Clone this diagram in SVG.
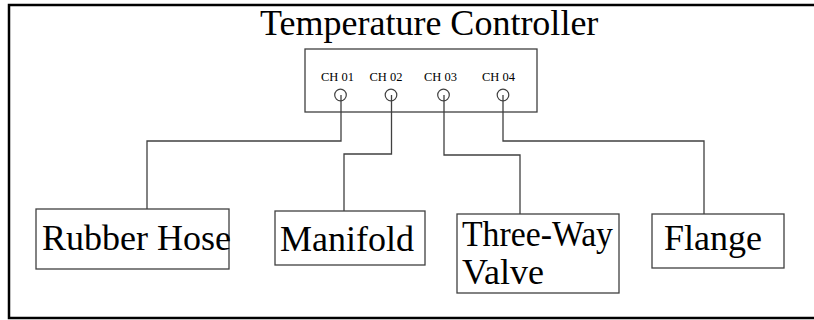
<svg xmlns="http://www.w3.org/2000/svg" width="814" height="320" viewBox="0 0 814 320">
<style>
.frame{fill:none;stroke:#000;stroke-width:2.5}
.box{fill:#fff;stroke:#404040;stroke-width:1.3}
.conn{fill:none;stroke:#404040;stroke-width:1.3}
.port{fill:#fff;stroke:#404040;stroke-width:1.2}
.t{font-family:"Liberation Serif","Times New Roman",serif;fill:#000}
.big{font-size:36px}
.ch{font-size:13.5px}
</style>
<rect width="814" height="320" fill="#fff"/>
<rect class="frame" x="9" y="5" width="820" height="313"/>
<g id="controller">
<text class="t big" x="260" y="35">Temperature Controller</text>
<rect class="box" x="305" y="49" width="232" height="63"/>
<text class="t ch" x="321" y="81" textLength="33" lengthAdjust="spacingAndGlyphs">CH 01</text>
<text class="t ch" x="369.5" y="81" textLength="33" lengthAdjust="spacingAndGlyphs">CH 02</text>
<text class="t ch" x="424" y="81" textLength="33" lengthAdjust="spacingAndGlyphs">CH 03</text>
<text class="t ch" x="482" y="81" textLength="33" lengthAdjust="spacingAndGlyphs">CH 04</text>
<circle class="port" cx="340.5" cy="95" r="5.8"/>
<circle class="port" cx="391" cy="95" r="5.8"/>
<circle class="port" cx="443.5" cy="95" r="5.8"/>
<circle class="port" cx="503" cy="95" r="5.8"/>
</g>
<g id="connectors">
<path class="conn" d="M341,95 V141 H147 V209"/>
<path class="conn" d="M391.5,95 V154 H344 V211"/>
<path class="conn" d="M444,95 V155 H520 V214"/>
<path class="conn" d="M503,95 V141 H704 V214"/>
</g>
<g id="rubber-hose">
<rect class="box" x="36" y="209" width="193" height="60"/>
<text class="t big" x="42" y="250">Rubber Hose</text>
</g>
<g id="manifold">
<rect class="box" x="275" y="211" width="150" height="54"/>
<text class="t big" x="280" y="251">Manifold</text>
</g>
<g id="three-way-valve">
<rect class="box" x="457" y="214" width="162" height="79"/>
<text class="t big" x="462" y="246" textLength="151" lengthAdjust="spacingAndGlyphs">Three-Way</text>
<text class="t big" x="462" y="284">Valve</text>
</g>
<g id="flange">
<rect class="box" x="652" y="214" width="132" height="54"/>
<text class="t big" x="664" y="250">Flange</text>
</g>
</svg>
